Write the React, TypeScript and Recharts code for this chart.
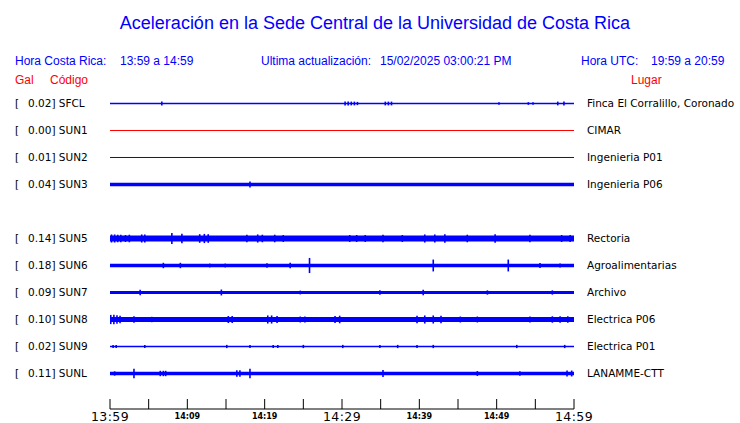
import React from 'react';
import { ComposedChart, Line, Scatter, ErrorBar, XAxis, YAxis } from 'recharts';

// ---- data ----
const codes = ['SFCL', 'SUN1', 'SUN2', 'SUN3', 'SUN4', 'SUN5', 'SUN6', 'SUN7', 'SUN8', 'SUN9', 'SUNL'];
const gal: (number | null)[] = [0.02, 0.0, 0.01, 0.04, null, 0.14, 0.18, 0.09, 0.1, 0.02, 0.11];
const places: (string | null)[] = [
  'Finca El Corralillo, Coronado',
  'CIMAR',
  'Ingenieria P01',
  'Ingenieria P06',
  null,
  'Rectoria',
  'Agroalimentarias',
  'Archivo',
  'Electrica P06',
  'Electrica P01',
  'LANAMME-CTT',
];

// spikes: [minute since 13:59, half amplitude (counts, 100 = row spacing)]
const spikesSFCL: [number, number][] = [[6.7, 7], [30.4, 7], [30.8, 7], [31.2, 7], [31.6, 7], [32.0, 6], [35.6, 7], [36.0, 7], [36.4, 7], [50.3, 5], [54.1, 5], [54.7, 5], [57.9, 7], [58.7, 7]];
const spikesSUN1: [number, number][] = [];
const spikesSUN2: [number, number][] = [];
const spikesSUN3: [number, number][] = [[18.1, 11]];
const spikesSUN4: [number, number][] = [];
const spikesSUN5: [number, number][] = [[0.2, 15], [0.6, 15], [1.0, 14], [1.4, 14], [2.0, 13], [2.5, 14], [4.1, 15], [4.5, 15], [8.0, 20], [9.3, 18], [11.6, 16], [12.2, 17], [12.7, 16], [17.7, 14], [19.1, 15], [19.7, 14], [21.3, 14], [22.4, 13], [31.0, 13], [31.9, 13], [33.0, 13], [35.3, 14], [37.8, 13], [40.7, 15], [42.0, 15], [43.3, 16], [46.2, 14], [49.8, 16], [54.3, 14], [58.4, 13], [59.5, 13]];
const spikesSUN6: [number, number][] = [[6.9, 10], [9.1, 10], [12.9, 7], [14.9, 7], [20.3, 8], [23.3, 10], [25.8, 28], [41.8, 22], [51.5, 22], [55.6, 9], [58.2, 7]];
const spikesSUN7: [number, number][] = [[3.9, 10], [14.4, 11], [24.6, 7], [34.9, 8], [40.5, 10], [48.8, 8], [57.2, 8]];
const spikesSUN8: [number, number][] = [[0.1, 17], [0.5, 18], [0.9, 16], [1.3, 14], [3.1, 12], [5.4, 10], [15.3, 13], [15.8, 13], [20.4, 15], [20.9, 15], [21.6, 13], [24.6, 11], [25.2, 11], [29.1, 13], [29.7, 14], [39.7, 14], [40.7, 15], [41.8, 15], [42.8, 14], [45.3, 11], [47.5, 11], [54.3, 11], [57.2, 12], [58.2, 12], [59.2, 12]];
const spikesSUN9: [number, number][] = [[0.4, 6], [0.8, 6], [4.5, 6], [15.1, 6], [18.1, 6], [21.1, 6], [21.7, 6], [25.0, 6], [30.1, 6], [34.9, 6], [37.2, 6], [39.7, 6], [41.8, 6], [52.6, 6], [58.8, 6]];
const spikesSUNL: [number, number][] = [[0.6, 8], [3.1, 18], [6.5, 10], [6.9, 10], [7.2, 10], [16.4, 12], [16.8, 12], [18.1, 18], [35.3, 13], [47.5, 9], [53.0, 8], [59.1, 11], [59.7, 11]];

const spikes = [spikesSFCL, spikesSUN1, spikesSUN2, spikesSUN3, spikesSUN4, spikesSUN5, spikesSUN6, spikesSUN7, spikesSUN8, spikesSUN9, spikesSUNL];

const minuteTicks = [0, 5, 10, 15, 20, 25, 30, 35, 40, 45, 50, 55, 60];
const tickLabels: Record<number, string> = { 0: '13:59', 10: '14:09', 20: '14:19', 30: '14:29', 40: '14:39', 50: '14:49', 60: '14:59' };
const majorTicks = [0, 30, 60];

// ---- styles ----
const ROW = 100;
const BLUE = '#0000ff';
const RED = '#ff0000';
const bandWidth = [1.5, 1, 1, 3.5, 0, 6, 3.5, 3, 5, 1.5, 3.5];
const traceColor = (i: number) => (codes[i] === 'SUN1' ? RED : BLUE);

const online = codes.map((_, i) => gal[i] !== null);
const rowValues = codes.map((_, i) => i * ROW).filter((_, i) => online[i]);

const StationTick = (props: any) => {
  const { y, payload } = props;
  const i = Math.round(payload.value / ROW);
  const g = gal[i];
  if (g === null) return <g />;
  const common = { fontFamily: 'DejaVu Sans', fontSize: 10.5, fill: '#000' } as any;
  return (
    <g>
      <text x={15} y={y + 4} {...common}>[</text>
      <text x={28} y={y + 4} {...common}>{`${g.toFixed(2)}] ${codes[i]}`}</text>
      <text x={587} y={y + 4} {...common}>{places[i]}</text>
    </g>
  );
};

const TimeTick = (props: any) => {
  const { x, y, payload } = props;
  const v = payload.value as number;
  const label = tickLabels[v];
  const major = majorTicks.includes(v);
  return (
    <g>
      <line x1={x} x2={x} y1={y - 10} y2={y} stroke="#000" strokeWidth={1} />
      {label && (
        <text
          x={x}
          y={major ? y + 12 : y + 10}
          textAnchor="middle"
          fontFamily="DejaVu Sans"
          fontSize={major ? 12.5 : 8}
          fontWeight={major ? 'normal' : 'bold'}
          letterSpacing={major ? 0.4 : 0}
          fill="#000"
        >
          {label}
        </text>
      )}
    </g>
  );
};

const HiddenDot = () => <g />;

export default function App() {
  const hdr = { fontFamily: 'Liberation Sans, Arial, sans-serif', fontSize: 12 } as any;
  return (
    <div style={{ position: 'absolute', left: 0, top: 0, width: 740, height: 423, background: '#fff' }}>
      <ComposedChart width={740} height={423} margin={{ top: 90, right: 166, bottom: 0, left: 0 }}>
        <XAxis
          dataKey="t"
          type="number"
          domain={[0, 60]}
          ticks={minuteTicks}
          interval={0}
          height={14}
          tickSize={0}
          tickMargin={0}
          tickLine={false}
          axisLine={{ stroke: '#000', strokeWidth: 1 }}
          tick={<TimeTick />}
          allowDataOverflow
        />
        <YAxis
          type="number"
          domain={[-50, 1131.5]}
          reversed
          ticks={rowValues}
          interval={0}
          width={110}
          axisLine={false}
          tickLine={false}
          tick={<StationTick />}
          allowDataOverflow
        />
        {codes.map((c, i) =>
          online[i] ? (
            <Line
              key={`line-${c}`}
              data={[{ t: 0, y: i * ROW }, { t: 60, y: i * ROW }]}
              dataKey="y"
              stroke={traceColor(i)}
              strokeWidth={bandWidth[i]}
              dot={false}
              activeDot={false}
              isAnimationActive={false}
            />
          ) : null
        )}
        {codes.map((c, i) =>
          online[i] && spikes[i].length ? (
            <Scatter
              key={`sp-${c}`}
              data={spikes[i].map(([t, a]) => ({ t, y: i * ROW, err: a }))}
              dataKey="y"
              shape={HiddenDot}
              isAnimationActive={false}
            >
              <ErrorBar dataKey="err" direction="y" width={0} stroke={traceColor(i)} strokeWidth={1.6} isAnimationActive={false} />
            </Scatter>
          ) : null
        )}
      </ComposedChart>
      <svg width={740} height={90} style={{ position: 'absolute', left: 0, top: 0, pointerEvents: 'none' }}>
        <text x={375} y={28.5} textAnchor="middle" fontFamily="Liberation Sans, Arial, sans-serif" fontSize={18} fill={BLUE}>
          Aceleración en la Sede Central de la Universidad de Costa Rica
        </text>
        <text x={15} y={64.5} {...hdr} fill={BLUE}>Hora Costa Rica:</text>
        <text x={120} y={64.5} {...hdr} fill={BLUE}>13:59 a 14:59</text>
        <text x={261} y={64.5} {...hdr} fill={BLUE}>Ultima actualización:</text>
        <text x={380} y={64.5} {...hdr} fill={BLUE}>15/02/2025 03:00:21 PM</text>
        <text x={581} y={64.5} {...hdr} fill={BLUE}>Hora UTC:</text>
        <text x={651} y={64.5} {...hdr} fill={BLUE}>19:59 a 20:59</text>
        <text x={15} y={83.5} {...hdr} fill={RED}>Gal</text>
        <text x={50} y={83.5} {...hdr} fill={RED}>Código</text>
        <text x={631} y={83.5} {...hdr} fill={RED}>Lugar</text>
      </svg>
    </div>
  );
}
